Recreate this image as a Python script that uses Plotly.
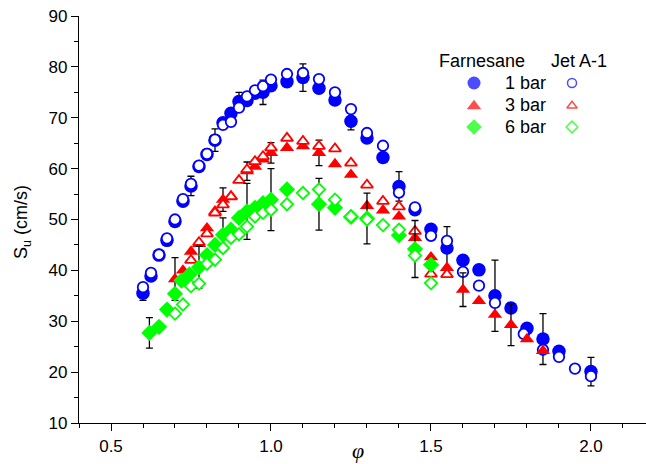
import plotly.graph_objects as go

# ---------------- data: laminar burning velocity vs equivalence ratio ----------------
# Farnesane, 1 bar
f1_phi = [0.6, 0.625, 0.65, 0.675, 0.7, 0.725, 0.75, 0.775, 0.8, 0.825, 0.85, 0.875,
          0.9, 0.925, 0.95, 0.975, 1.0, 1.05, 1.1, 1.15, 1.2, 1.25, 1.3, 1.35, 1.4,
          1.45, 1.5, 1.55, 1.6, 1.65, 1.7, 1.75, 1.8, 1.85, 1.9, 2.0]
f1_su = [35.5, 38.9, 43.0, 45.9, 49.6, 53.6, 56.6, 60.4, 62.8, 65.6, 69.0, 70.9,
         73.2, 73.4, 74.8, 75.0, 76.3, 77.1, 77.9, 75.8, 73.5, 69.3, 66.0, 62.2, 56.5,
         51.9, 48.1, 44.4, 42.0, 40.1, 35.0, 32.6, 28.6, 26.5, 24.1, 20.1]
f1_err = [1.4, None, None, None, None, None, 1.9, None, None, 2.2, None, None,
          1.8, None, None, 2.4, None, None, 2.7, None, None, 1.7, None, None, 2.9,
          None, None, 4.2, None, None, 7.0, None, None, 5.0, None, 2.8]

# Jet A-1, 1 bar
j1_phi = [0.6, 0.625, 0.65, 0.675, 0.7, 0.725, 0.75, 0.775, 0.8, 0.825, 0.85, 0.875,
          0.9, 0.925, 0.95, 0.975, 1.0, 1.05, 1.1, 1.15, 1.2, 1.25, 1.3, 1.35, 1.4,
          1.45, 1.5, 1.55, 1.6, 1.65, 1.7, 1.79, 1.85, 1.9, 1.95, 2.0]
j1_su = [36.7, 39.5, 43.1, 46.3, 50.0, 54.0, 57.0, 60.6, 62.9, 65.7, 68.6, 69.2,
         72.0, 74.2, 75.4, 76.2, 77.5, 78.6, 78.8, 77.6, 75.0, 71.7, 67.0, 64.5, 55.3,
         52.4, 46.8, 45.8, 39.7, 37.0, 33.6, 27.5, 24.4, 23.0, 20.7, 19.2]

# Farnesane, 3 bar
f3_phi = [0.7, 0.725, 0.75, 0.775, 0.8, 0.825, 0.85, 0.875, 0.925, 0.95, 0.975, 1.0,
          1.05, 1.1, 1.15, 1.2, 1.25, 1.3, 1.35, 1.4, 1.45, 1.5, 1.55, 1.6, 1.65,
          1.7, 1.75, 1.8, 1.85]
f3_su = [38.3, 40.0, 43.7, 45.2, 48.3, 51.6, 53.9, 54.6, 59.5, 60.4, 61.8, 63.1,
         64.1, 64.4, 63.1, 60.9, 58.8, 52.7, 51.8, 50.6, 46.4, 42.6, 40.5, 36.2, 34.0,
         31.3, 29.3, 26.5, 24.2]
f3_err = [4.2, None, None, None, None, None, 2.3, None, 1.8, None, None, 2.0,
          None, None, 2.5, None, None, None, None, None, None, None, None, 3.3, None,
          None, 4.1, None, None]

# Jet A-1, 3 bar
j3_phi = [0.75, 0.775, 0.8, 0.825, 0.85, 0.875, 0.9, 0.925, 0.95, 0.975, 1.0, 1.05,
          1.1, 1.15, 1.2, 1.25, 1.3, 1.35, 1.4, 1.45, 1.5, 1.55]
j3_su = [42.0, 45.5, 47.2, 51.3, 52.9, 54.5, 57.7, 59.8, 61.4, 62.4, 64.1, 66.0,
         65.4, 64.4, 63.9, 61.1, 56.8, 53.6, 52.5, 47.7, 39.3, 39.2]

# Farnesane, 6 bar
f6_phi = [0.62, 0.65, 0.675, 0.7, 0.72, 0.745, 0.775, 0.8, 0.825, 0.85, 0.875, 0.9,
          0.925, 0.95, 0.975, 1.0, 1.05, 1.15, 1.2, 1.25, 1.3, 1.4, 1.45, 1.5]
f6_su = [27.7, 28.9, 32.3, 35.4, 38.0, 39.2, 40.6, 43.0, 45.0, 47.0, 48.0, 50.3,
         51.6, 52.3, 53.2, 53.9, 55.9, 53.0, 52.3, 50.5, 50.2, 46.9, 44.2, 41.1]
f6_err = [3.0, None, None, None, None, None, 4.1, None, None, 3.3, None, None,
          5.5, None, None, 6.1, None, 5.1, None, None, 5.0, None, 5.6, None]

# Jet A-1, 6 bar
j6_phi = [0.7, 0.725, 0.75, 0.775, 0.8, 0.825, 0.85, 0.875, 0.9, 0.925, 0.95, 0.975,
          1.0, 1.05, 1.1, 1.15, 1.2, 1.25, 1.3, 1.35, 1.4, 1.45, 1.5]
j6_su = [31.5, 33.3, 36.9, 37.4, 41.3, 42.1, 44.4, 46.4, 47.1, 48.6, 50.6, 51.3,
         51.9, 53.0, 55.2, 55.9, 53.9, 50.6, 50.0, 48.9, 48.0, 42.9, 37.5]

pressure_labels = ["1 bar", "3 bar", "6 bar"]
fuel_headers = ["Farnesane", "Jet A-1"]

BLUE, RED, GREEN = "#0000ff", "#ff0000", "#00ff00"
FONT = "Liberation Sans, Arial, sans-serif"

fig = go.Figure()


def add_errors(phi, su, err):
    fig.add_trace(go.Scatter(
        x=phi, y=su, mode="markers",
        marker=dict(size=1, opacity=0),
        error_y=dict(type="data", array=err, visible=True, color="black",
                     thickness=1.3, width=3.5),
        hoverinfo="skip", showlegend=False))


def add_filled(phi, su, symbol, size, color):
    fig.add_trace(go.Scatter(
        x=phi, y=su, mode="markers",
        marker=dict(symbol=symbol, size=size, color=color,
                    line=dict(width=0)),
        showlegend=False))


def add_open(phi, su, symbol, size, color):
    fig.add_trace(go.Scatter(
        x=phi, y=su, mode="markers",
        marker=dict(symbol=symbol, size=size, color="white",
                    line=dict(width=1.8, color=color)),
        showlegend=False))


add_errors(f1_phi, f1_su, f1_err)
add_filled(f1_phi, f1_su, "circle", 13.5, BLUE)
add_open(j1_phi, j1_su, "circle", 10.5, BLUE)
add_errors(f3_phi, f3_su, f3_err)
add_filled(f3_phi, f3_su, "triangle-up", 12.5, RED)
add_open(j3_phi, j3_su, "triangle-up", 10.5, RED)
add_errors(f6_phi, f6_su, f6_err)
add_filled(f6_phi, f6_su, "diamond", 12.5, GREEN)
add_open(j6_phi, j6_su, "diamond", 9.5, GREEN)

# ---------------- custom two-column key (pixel-space overlay axes) ----------------
key_rows = [83, 104.5, 127]
key_filled_x, key_text_x, key_open_x = 474, 525, 572
fig.add_trace(go.Scatter(
    x=[key_filled_x] * 3, y=[key_rows[0], key_rows[1] + 1.5, key_rows[2]],
    xaxis="x3", yaxis="y3", mode="markers",
    marker=dict(symbol=["circle", "triangle-up", "diamond"], size=[13, 12.5, 12],
                color=[BLUE, RED, GREEN], line=dict(width=0)),
    hoverinfo="skip", showlegend=False))
fig.add_trace(go.Scatter(
    x=[key_open_x] * 3, y=[key_rows[0], key_rows[1] + 1.2, key_rows[2]],
    xaxis="x3", yaxis="y3", mode="markers",
    marker=dict(symbol=["circle", "triangle-up", "diamond"], size=[9, 9, 9],
                color="white", line=dict(width=1.5, color=[BLUE, RED, GREEN])),
    hoverinfo="skip", showlegend=False))

annotations = [
    dict(x=482, y=61, text=fuel_headers[0]),
    dict(x=579, y=61, text=fuel_headers[1]),
]
for label, ry in zip(pressure_labels, key_rows):
    annotations.append(dict(x=key_text_x, y=ry, text=label))
for a in annotations:
    a.update(xref="x3", yref="y3", showarrow=False, xanchor="center",
             yanchor="middle", font=dict(family=FONT, size=18, color="black"))

# axis titles
annotations.append(dict(
    x=-0.0988, y=0.494, xref="paper", yref="paper", showarrow=False,
    text="S<sub>u</sub> (cm/s)", textangle=-90, xanchor="center", yanchor="middle",
    font=dict(family=FONT, size=18, color="black")))
annotations.append(dict(
    x=0.492, y=-0.067, xref="paper", yref="paper", showarrow=False,
    text="<i>φ</i>", xanchor="center", yanchor="middle",
    font=dict(family="Liberation Serif, Times New Roman, serif", size=22,
              color="black")))

X_RANGE = [0.4, 2.172]
Y_RANGE = [10, 90]

axis_common = dict(showgrid=False, zeroline=False, showline=True,
                   linecolor="black", linewidth=1.2, tickcolor="black",
                   tickwidth=1.2)

fig.update_layout(
    width=646, height=464,
    margin=dict(l=79, r=0, t=16, b=41),
    paper_bgcolor="white", plot_bgcolor="white",
    font=dict(family=FONT, size=17, color="black"),
    showlegend=False,
    annotations=annotations,
    xaxis=dict(range=X_RANGE, tickmode="linear", tick0=0.5, dtick=0.5,
               tickformat=".1f", ticks="outside", ticklen=7,
               minor=dict(tickmode="linear", tick0=0.4, dtick=0.1,
                          ticks="outside", ticklen=4, tickcolor="black",
                          tickwidth=1.2, showgrid=False),
               tickfont=dict(family=FONT, size=17, color="black"),
               anchor="y", **axis_common),
    xaxis2=dict(range=X_RANGE, matches="x", overlaying="x", side="top",
                anchor="y", tickmode="linear", tick0=0.5, dtick=0.5,
                ticks="inside", ticklen=7, showticklabels=False,
                minor=dict(tickmode="linear", tick0=0.4, dtick=0.1,
                           ticks="inside", ticklen=4, tickcolor="black",
                           tickwidth=1.2, showgrid=False),
                **axis_common),
    yaxis=dict(range=Y_RANGE, tickmode="linear", tick0=10, dtick=10,
               ticks="outside", ticklen=7,
               minor=dict(tickmode="linear", tick0=10, dtick=5,
                          ticks="outside", ticklen=4, tickcolor="black",
                          tickwidth=1.2, showgrid=False),
               tickfont=dict(family=FONT, size=17, color="black"),
               anchor="x", **axis_common),
    xaxis3=dict(range=[79, 646], overlaying="x", visible=False, domain=[0, 1]),
    yaxis3=dict(range=[423, 16], overlaying="y", visible=False, domain=[0, 1]),
)

fig.write_html("out.html")
